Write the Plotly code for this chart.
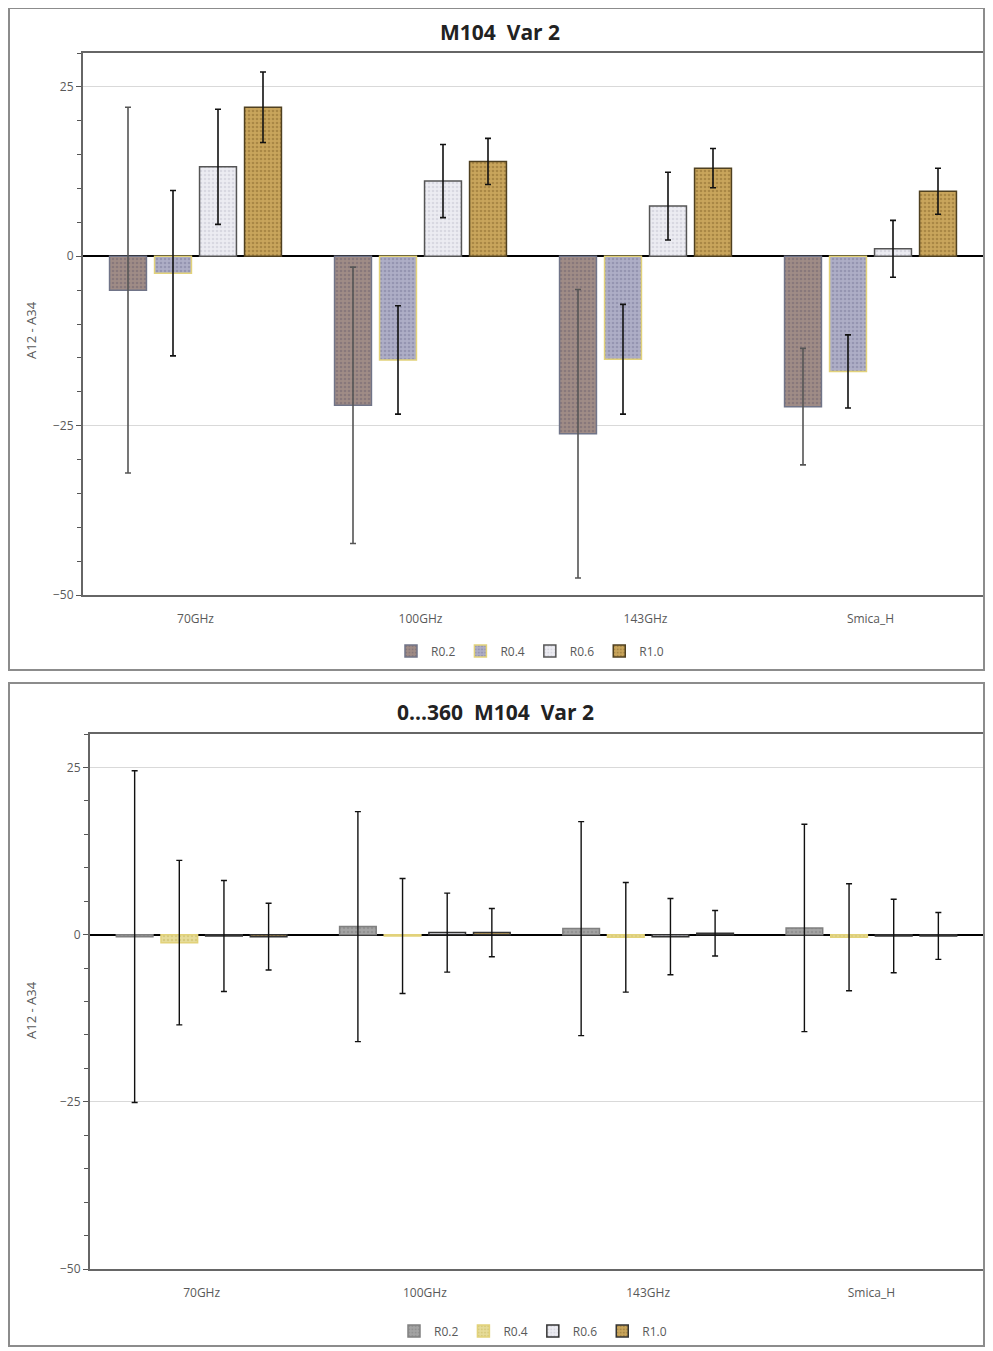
import plotly.graph_objects as go

OFF = 8  # page body margin
W, H = 977, 1351
K = (H - 8) / H  # observed vertical rendering factor

categories = ["70GHz", "100GHz", "143GHz", "Smica_H"]
series_names = ["R0.2", "R0.4", "R0.6", "R1.0"]

# Top chart: M104 Var 2
top_values = {
    "R0.2": [-5.0, -22.0, -26.2, -22.2],
    "R0.4": [-2.5, -15.3, -15.2, -17.0],
    "R0.6": [13.2, 11.1, 7.4, 1.1],
    "R1.0": [22.0, 14.0, 13.0, 9.6],
}
top_errors = {
    "R0.2": [27.0, 20.4, 21.3, 8.6],
    "R0.4": [12.2, 8.0, 8.1, 5.4],
    "R0.6": [8.5, 5.4, 5.0, 4.2],
    "R1.0": [5.2, 3.4, 2.9, 3.4],
}

# Bottom chart: 0...360 M104 Var 2
bottom_values = {
    "R0.2": [-0.3, 1.2, 0.9, 1.0],
    "R0.4": [-1.2, -0.2, -0.4, -0.4],
    "R0.6": [-0.2, 0.3, -0.3, -0.2],
    "R1.0": [-0.3, 0.3, 0.2, -0.2],
}
bottom_errors = {
    "R0.2": [24.8, 17.2, 16.0, 15.5],
    "R0.4": [12.3, 8.6, 8.2, 8.0],
    "R0.6": [8.3, 5.9, 5.7, 5.5],
    "R1.0": [5.0, 3.6, 3.4, 3.5],
}

y_tickvals = [-50, -25, 0, 25]

styles = {
    "R0.2": dict(bg="#a08c86", fg="#6f6470", line="#707488"),
    "R0.4": dict(bg="#aeaec6", fg="#7c7c9c", line="#e2d27a"),
    "R0.6": dict(bg="#ececf2", fg="#c4c4d0", line="#555555"),
    "R1.0": dict(bg="#c9a55c", fg="#8a6a2e", line="#4f4020"),
}
bottom_styles = {
    "R0.2": dict(bg="#a4a4a4", fg="#808080", line="#808080"),
    "R0.4": dict(bg="#e6dc9a", fg="#c8b860", line="#e2d27a"),
    "R0.6": dict(bg="#ececf2", fg="#c4c4d0", line="#333333"),
    "R1.0": dict(bg="#c9a55c", fg="#8a6a2e", line="#333333"),
}


def px(x):
    return (x - OFF) / W


def py(y):
    return 1 - ((y - OFF) / K) / H


fig = go.Figure()

for name in series_names:
    st = styles[name]
    fig.add_trace(go.Bar(
        x=categories, y=top_values[name], name=name,
        xaxis="x", yaxis="y", legend="legend",
        marker=dict(color=st["bg"], line=dict(color=st["line"], width=1.5),
                    pattern=dict(shape=".", fgcolor=st["fg"], bgcolor=st["bg"], size=4, solidity=0.35)),
        error_y=dict(type="data", array=top_errors[name], visible=True,
                     color="#555555" if name == "R0.2" else "#111111",
                     thickness=1.6, width=3),
    ))

for name in series_names:
    st = bottom_styles[name]
    fig.add_trace(go.Bar(
        x=categories, y=bottom_values[name], name=name,
        xaxis="x2", yaxis="y2", legend="legend2",
        marker=dict(color=st["bg"], line=dict(color=st["line"], width=1.5),
                    pattern=dict(shape=".", fgcolor=st["fg"], bgcolor=st["bg"], size=4, solidity=0.35)),
        error_y=dict(type="data", array=bottom_errors[name], visible=True,
                     color="#111111", thickness=1.4, width=3),
    ))

axis_font = dict(family="Open Sans", size=12, color="#595959")

common_y = dict(
    range=[-50, 30], tickvals=y_tickvals, ticks="outside", ticklen=5,
    tickcolor="#555555", tickfont=axis_font,
    showgrid=True, gridcolor="#d9d9d9", gridwidth=1,
    zeroline=True, zerolinecolor="#000000", zerolinewidth=1.5,
    showline=True, linecolor="#666666", linewidth=2, mirror=True,
    minor=dict(dtick=5, ticks="outside", ticklen=4, tickcolor="#555555", showgrid=False),
    fixedrange=True,
)
common_x = dict(
    ticks="", tickfont=axis_font, showline=True, linecolor="#666666",
    linewidth=2, mirror=True, showgrid=False, ticklabelstandoff=12,
)

legend_style = dict(orientation="h", xanchor="center", yanchor="middle",
                    font=dict(family="Open Sans", size=12, color="#595959"), itemwidth=30,
                    bgcolor="rgba(0,0,0,0)", tracegroupgap=0)

fig.update_layout(
    width=W, height=H, autosize=False,
    margin=dict(l=0, r=0, t=0, b=0),
    paper_bgcolor="white", plot_bgcolor="white",
    barmode="group", bargap=0.2, bargroupgap=0.18,
    xaxis=dict(domain=[px(83), px(983)], anchor="y", **common_x),
    yaxis=dict(domain=[py(595), py(53)], anchor="x", **common_y),
    xaxis2=dict(domain=[px(90), px(983)], anchor="y2", **common_x),
    yaxis2=dict(domain=[py(1269), py(734)], anchor="x2", **common_y),
    legend=dict(x=px(530), y=py(651), **legend_style),
    legend2=dict(x=px(533), y=py(1331), **legend_style),
    showlegend=True,
)

annotations = [
    dict(text="<b>M104  Var 2</b>", x=px(500), y=py(32), xref="paper", yref="paper",
         showarrow=False, font=dict(family="Open Sans", size=21, color="#222222"),
         xanchor="center", yanchor="middle"),
    dict(text="<b>0...360  M104  Var 2</b>", x=px(495), y=py(712), xref="paper", yref="paper",
         showarrow=False, font=dict(family="Open Sans", size=21, color="#222222"),
         xanchor="center", yanchor="middle"),
    dict(text="A12 - A34", x=px(31), y=py(330), xref="paper", yref="paper", textangle=-90,
         showarrow=False, font=dict(family="Open Sans", size=13, color="#595959"),
         xanchor="center", yanchor="middle"),
    dict(text="A12 - A34", x=px(31), y=py(1010), xref="paper", yref="paper", textangle=-90,
         showarrow=False, font=dict(family="Open Sans", size=13, color="#595959"),
         xanchor="center", yanchor="middle"),
]
fig.update_layout(annotations=annotations)

shapes = [
    dict(type="rect", xref="paper", yref="paper", x0=px(9), x1=px(984), y0=py(670), y1=py(8),
         line=dict(color="#8c8c8c", width=2)),
    dict(type="rect", xref="paper", yref="paper", x0=px(9), x1=px(984), y0=py(1346), y1=py(683),
         line=dict(color="#8c8c8c", width=2)),
]
fig.update_layout(shapes=shapes)

fig.write_html("out.html")
